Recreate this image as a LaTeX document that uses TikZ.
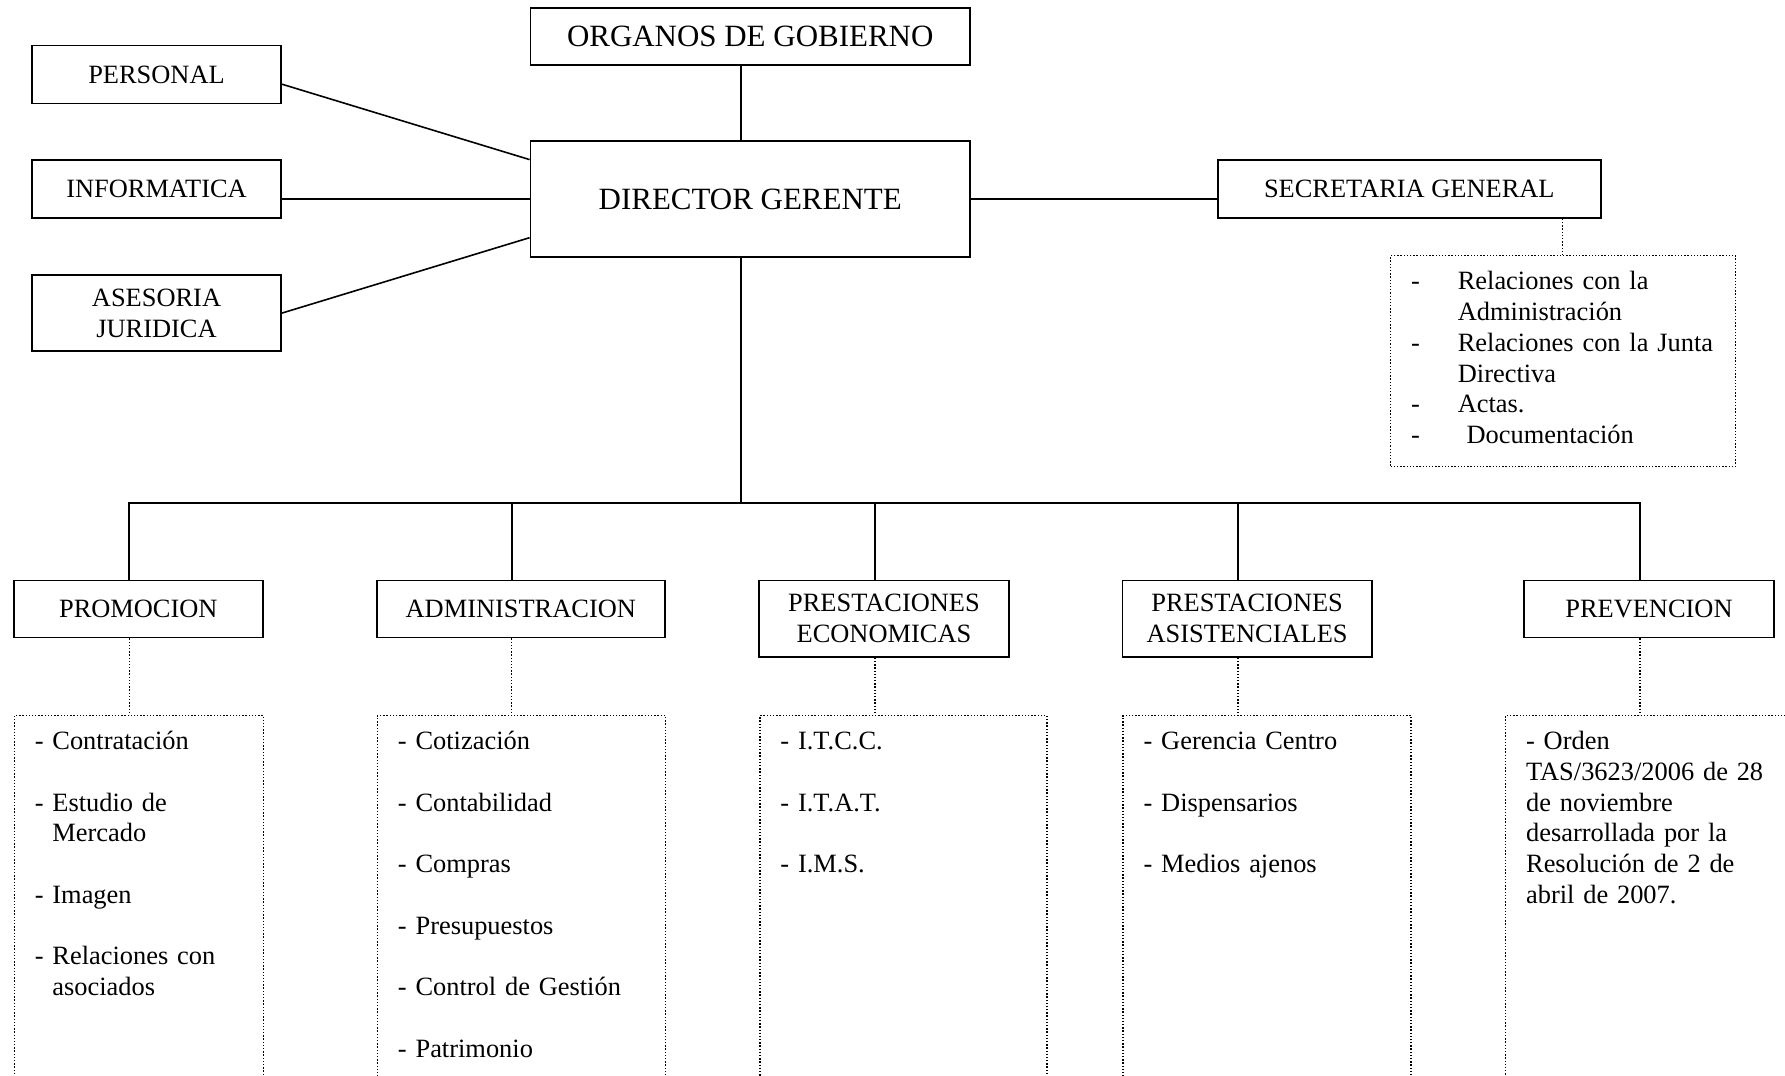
\documentclass[tikz,border=0pt]{standalone}
\usepackage{fontspec}
\setmainfont{Liberation Serif}
\usetikzlibrary{positioning, calc}
\newcommand{\sdash}{\makebox[20.5pt][l]{-}}
\tikzset{
  % unit box style
  unit/.style={
    draw
    , line width=0.8pt
    , align=center
    , inner sep=0pt
    , minimum width=109.5pt
    , minimum height=25pt
    , font=\fontsize{11.6}{13.5}\selectfont
  },
  % main box style
  head/.style={
    unit
    , minimum width=193pt
    , font=\fontsize{13.6}{16}\selectfont
  },
  % task list style
  tasks/.style={
    draw
    , line width=0.6pt
    , dash pattern=on 0.6pt off 0.8pt
    , anchor=north west
    , align=left
    , inner xsep=9pt
    , inner ysep=5.5pt
    , text height=9.5pt
    , text depth=200pt
    , font=\fontsize{11.6}{13.5}\selectfont
  },
  % line styles
  link/.style={line width=0.7pt},
  dlink/.style={line width=0.6pt, dash pattern=on 0.6pt off 0.8pt},
}

\begin{document}
\begin{tikzpicture}[x=0.5pt, y=-0.5pt]
  \path[use as bounding box, clip] (0,0) rectangle (1568,945);

  % top
  \node[head] (org) at (659,32) {ORGANOS DE GOBIERNO};
  \node[head, minimum height=51pt] (dir) at (659,175) {DIRECTOR GERENTE};
  \node[unit, minimum height=25.5pt] (per) at (137.5,65.5) {PERSONAL};
  \node[unit, minimum height=25.5pt] (inf) at (137.5,166) {INFORMATICA};
  \node[unit, minimum height=33.5pt] (ase) at (137.5,275) {ASESORIA\\JURIDICA};
  \node[unit, minimum width=168pt, minimum height=25.5pt] (sec) at (1238,166) {SECRETARIA GENERAL};
  \node[tasks, text width=133.5pt, text depth=72pt] (seclist) at (1221,224) {%
    \sdash Relaciones con la\\
    \hspace*{20.5pt}Administración\\
    \sdash Relaciones con la Junta\\
    \hspace*{20.5pt}Directiva\\
    \sdash Actas.\\
    \sdash\ Documentación};

  % departments
  \node[unit] (prom) at (121.5,535) {PROMOCION};
  \node[unit, minimum width=126.5pt] (admin) at (457.5,535) {ADMINISTRACION};
  \node[unit, minimum height=33.5pt] (econ) at (776.5,543.5) {PRESTACIONES\\ECONOMICAS};
  \node[unit, minimum height=33.5pt] (asist) at (1095.5,543.5) {PRESTACIONES\\ASISTENCIALES};
  \node[unit] (prev) at (1448.5,535) {PREVENCION};

  \node[tasks, text width=91.5pt] (promlist) at (12,628) {%
    - Contratación\\[13.5pt]
    - Estudio de\\\phantom{- }Mercado\\[13.5pt]
    - Imagen\\[13.5pt]
    - Relaciones con\\\phantom{- }asociados};
  \node[tasks, text width=108.5pt] (adminlist) at (331,628) {%
    - Cotización\\[13.5pt]
    - Contabilidad\\[13.5pt]
    - Compras\\[13.5pt]
    - Presupuestos\\[13.5pt]
    - Control de Gestión\\[13.5pt]
    - Patrimonio};
  \node[tasks, text width=108pt] (econlist) at (667,628) {%
    - I.T.C.C.\\[13.5pt]
    - I.T.A.T.\\[13.5pt]
    - I.M.S.};
  \node[tasks, text width=108.5pt] (asistlist) at (986,628) {%
    - Gerencia Centro\\[13.5pt]
    - Dispensarios\\[13.5pt]
    - Medios ajenos};
  \node[tasks, text width=111pt] (prevlist) at (1322,628) {%
    - Orden\\
    TAS/3623/2006 de 28\\
    de noviembre\\
    desarrollada por la\\
    Resolución de 2 de\\
    abril de 2007.};

  \coordinate (bus) at (651,442);

  % connectors
  \draw[link] ([xshift=-4pt]org.south) -- ([xshift=-4pt]dir.north);
  \draw[link] ([yshift=-4.25pt]per.east) -- ([yshift=-8.5pt]dir.north west);
  \draw[link] (dir.west -| inf.east) -- (dir.west);
  \draw[link] (ase.east) -- ([yshift=9pt]dir.south west);
  \draw[link] (dir.east) -- (dir.east -| sec.west);
  \draw[link] ([xshift=-4pt]dir.south) -- (bus);
  \foreach \u in {prom, admin, econ, asist, prev}
    \draw[link] ([xshift=-4pt]\u.north) |- (bus);

  \draw[dlink] ([xshift=-17pt]sec.south east) -- ([xshift=-17pt]sec.south east |- seclist.north);
  \foreach \u in {prom, admin, econ, asist, prev}
    \draw[dlink] ([xshift=-4pt]\u.south) -- ([xshift=-4pt]\u.south |- \u list.north);
\end{tikzpicture}
\end{document}
